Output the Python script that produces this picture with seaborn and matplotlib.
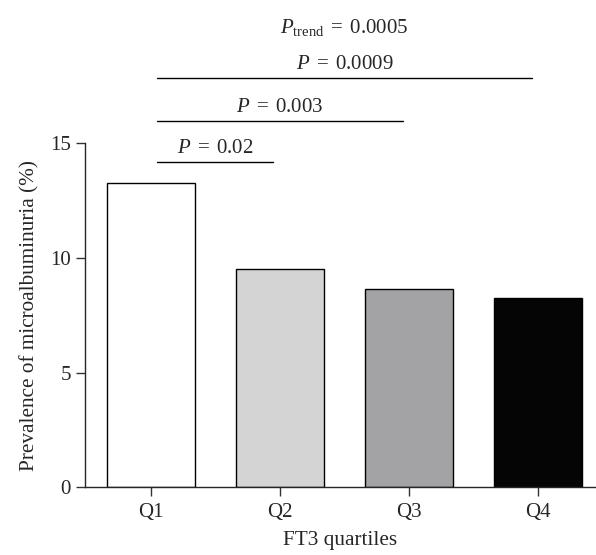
import pandas as pd
from matplotlib import pyplot as plt
import seaborn as sns

quartiles = ['Q1', 'Q2', 'Q3', 'Q4']
prevalence = [13.26, 9.52, 8.64, 8.27]
bar_colors = ['#ffffff', '#d4d4d4', '#a3a2a7', '#050505']

# brackets: (start, end, height, label)
bracket_starts = [0, 0, 0]
bracket_ends = [1, 2, 3]
bracket_heights = [14.2, 15.98, 17.85]
bracket_labels = [r'$P\;=\;0.02$', r'$P\;=\;0.003$', r'$P\;=\;0.0009$']
trend_label = r'$P_{\mathrm{trend}}\;=\;0.0005$'

sns.set_style('ticks')
plt.rcParams['font.family'] = ['Liberation Serif', 'DejaVu Serif']
plt.rcParams['mathtext.fontset'] = 'custom'
plt.rcParams['mathtext.it'] = 'Liberation Serif:italic'
plt.rcParams['mathtext.rm'] = 'Liberation Serif'

df = pd.DataFrame({'quartile': quartiles, 'prev': prevalence})

fig = plt.figure(figsize=(5.96, 5.55), dpi=100)
ax = fig.add_axes([0.1426, 0.122, 0.856, 0.620])
sns.barplot(data=df, x='quartile', y='prev', hue='quartile', palette=bar_colors,
            width=0.68, edgecolor='black', linewidth=1.0, legend=False, ax=ax)

ax.set_ylim(0, 15)
ax.set_xlim(-0.508, 3.44)
ax.set_yticks([0, 5, 10, 15])
ax.set_xlabel('FT3 quartiles', fontsize=15.3, labelpad=6)
ax.set_ylabel('Prevalence of microalbuminuria (%)', fontsize=15.3, labelpad=8)
ax.tick_params(labelsize=15, length=6.5, width=1.0, color='#333333')
ax.tick_params(axis='x', pad=5)
sns.despine(ax=ax)
for s in ['left', 'bottom']:
    ax.spines[s].set_linewidth(1.0)

for x0, x1, h, lab in zip(bracket_starts, bracket_ends, bracket_heights, bracket_labels):
    ax.plot([x0 + 0.05, x1 - 0.05], [h, h], color='black', lw=1.0, clip_on=False)
    ax.text((x0 + x1) / 2, h + 0.38, lab, ha='center', va='baseline', fontsize=15)
ax.text(1.5, 19.82, trend_label, ha='center', va='baseline', fontsize=15)

fig.savefig('out.png', dpi=100)
